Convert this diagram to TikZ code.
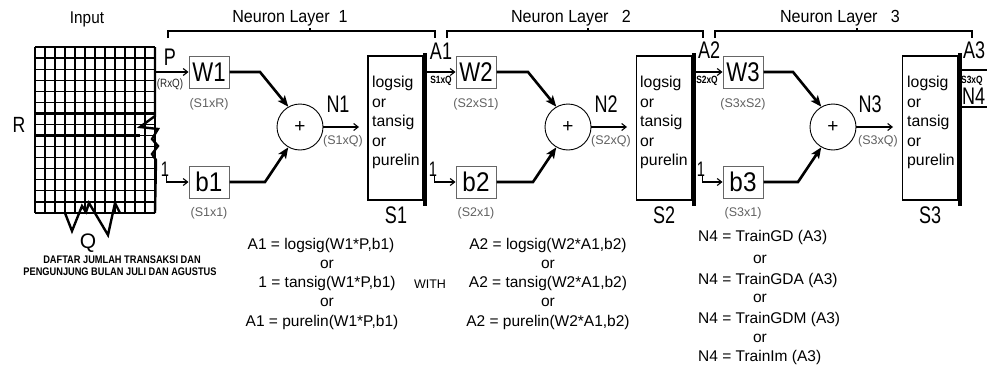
\documentclass[tikz,border=0pt]{standalone}
\usepackage{fontspec}
\setmainfont{Liberation Sans}
\usetikzlibrary{arrows.meta,calc}
\newcommand\myfs[1]{\fontsize{#1}{#1}\selectfont}
\begin{document}
\begin{tikzpicture}[x=1pt,y=-1pt,
  wbox/.style={draw=black!60, line width=1pt, minimum width=40pt, minimum height=32pt, inner sep=0pt, font=\myfs{27}},
  sbox/.style={draw, line width=1.1pt, minimum width=55pt, minimum height=144pt, inner sep=0pt},
  sumc/.style={circle, draw, line width=0.9pt, minimum size=46pt, inner sep=0pt, font=\myfs{19}},
  dimlab/.style={text=black!62, font=\myfs{12.5}, inner sep=0pt},
  tinylab/.style={font=\bfseries\myfs{10.5}, inner sep=0pt, xscale=0.8},
  biglab/.style={font=\myfs{24}, inner sep=0pt, xscale=0.75},
  onelab/.style={font=\myfs{21}, inner sep=0pt, xscale=0.7},
  eqn/.style={font=\myfs{15.5}, inner sep=0pt},
  sfunc/.style={anchor=north west, align=left, inner sep=0pt, font=\fontsize{15.8}{19.5}\selectfont},
  thickarr/.style={line width=2.6pt, line join=miter, -{Stealth[length=11pt,width=9pt,inset=2.5pt]}},
  thinarr/.style={line width=1.1pt, -{Straight Barb[length=4.5pt,width=7pt]}},
  brack/.style={line width=1.5pt},
  gthin/.style={line width=1.2pt},
  gthick/.style={line width=2.4pt}
]
\useasboundingbox (0,0) rectangle (987,372);
\fill[white] (0,0) rectangle (987,372);
\clip (0,0) rectangle (987,372);

% ---------- input grid ----------
\node[font=\myfs{17}, inner sep=0pt, xscale=0.9] (input) at (87,19) {Input};
\foreach \i in {0,...,12} \draw[gthin] (35+10*\i,47) -- (35+10*\i,213);
\foreach \j in {0,...,15} \draw[gthin] (35,47+11.067*\j) -- (155,47+11.067*\j);
\draw[gthick] (45,47) -- (45,213);
\draw[gthick] (55,47) -- (55,213);
\draw[gthick] (35,58.1) -- (155,58.1);
\draw[gthick] (35,113.4) -- (155,113.4);
\draw[gthick] (35,135.5) -- (140,135.5);
\draw[gthick] (35,213) -- (155,213);
\draw[gthick, line join=miter] (155,47) -- (155,116) -- (140,127) -- (158,129) -- (152,139) -- (158,146) -- (152,154) -- (156,160) -- (155,213);
\draw[gthick, line join=miter] (65,213) -- (72,231) -- (82,206) -- (86,212) -- (89,203) -- (108,235) -- (115,203) -- (120,213);
\node[font=\myfs{22}, inner sep=0pt, xscale=0.8] (R) at (19,125) {R};
\node[font=\myfs{21}, inner sep=0pt] (Q) at (88,243) {Q};
\node[font=\bfseries\myfs{11}, inner sep=0pt, xscale=0.84] (daftar1) at (122,260) {DAFTAR JUMLAH TRANSAKSI DAN};
\node[font=\bfseries\myfs{11}, inner sep=0pt, xscale=0.84] (daftar2) at (120,272) {PENGUNJUNG BULAN JULI DAN AGUSTUS};

% ---------- brackets ----------
\draw[brack] (168,38) -- (168,31) -- (435,31) -- (435,38);
\draw[brack] (310,31) -- (310,28);
\draw[brack] (447,38) -- (447,31) -- (703,31) -- (703,38);
\draw[brack] (588,31) -- (588,28);
\draw[brack] (715,38) -- (715,31) -- (972,31) -- (972,38);
\draw[brack] (857,31) -- (857,28);
\node[font=\myfs{17.5}, inner sep=0pt, xscale=0.92] (nl1) at (290,18) {Neuron Layer\ \ 1};
\node[font=\myfs{17.5}, inner sep=0pt, xscale=0.92] (nl2) at (571,18) {Neuron Layer\ \ \ 2};
\node[font=\myfs{17.5}, inner sep=0pt, xscale=0.92] (nl3) at (840,18) {Neuron Layer\ \ \ 3};

% ---------- layer 1 ----------
\node[wbox] (W1) at (209,72) {\scalebox{0.82}[1]{W1}};
\node[wbox] (b1) at (209,182) {\scalebox{0.9}[1]{b1}};
\node[dimlab] (W1d) at (209,104) {(S1xR)};
\node[dimlab] (b1d) at (209,213) {(S1x1)};
\node[sumc] (C1) at (300,127) {+};
\node[sbox] (S1) at (395.5,128) {};
\draw[line width=4pt] ([xshift=1.5pt,yshift=2pt]S1.north east) -- ([xshift=1.5pt,yshift=-5pt]S1.south east);
\node[sfunc] (S1t) at (372,76) {logsig\\or\\tansig\\or\\purelin};
\node[biglab] (S1l) at (396,215) {S1};

\coordinate (gP) at (155,72);
\node[biglab] (P) at (170,57) {P};
\node[font=\myfs{12}, inner sep=0pt, xscale=0.82, text=black!85] (RxQ) at (170,84) {(RxQ)};
\draw[thinarr] (gP) -- (W1.west);
\node[onelab] (one1) at (165,169) {1};
\draw[thinarr] ([xshift=1.5pt,yshift=1pt]one1.south) |- (b1.west);

\coordinate (k1a) at (260,72);
\coordinate (k1b) at (265,182);
\draw[thickarr] (W1.east) -- (k1a) -- (C1.120);
\draw[thickarr] (b1.east) -- (k1b) -- (C1.240);
\coordinate (n1e) at (359,127);
\draw[thinarr] (C1.east) -- (n1e);
\node[biglab] (N1) at (338,104) {N1};
\node[dimlab] (N1d) at (343,141) {(S1xQ)};

% ---------- layer 2 ----------
\node[wbox] (W2) at (476,72) {\scalebox{0.82}[1]{W2}};
\node[wbox] (b2) at (476,182) {\scalebox{0.9}[1]{b2}};
\node[dimlab] (W2d) at (476,104) {(S2xS1)};
\node[dimlab] (b2d) at (476,213) {(S2x1)};
\node[sumc] (C2) at (568,127) {+};
\node[sbox] (S2) at (664,128) {};
\draw[line width=4pt] ([xshift=1.5pt,yshift=2pt]S2.north east) -- ([xshift=1.5pt,yshift=-5pt]S2.south east);
\node[sfunc] (S2t) at (640,76) {logsig\\or\\tansig\\or\\purelin};
\node[biglab] (S2l) at (664,215) {S2};

\coordinate (a1s) at (427,72);
\draw[thinarr] (a1s) -- (W2.west);
\node[biglab] (A1) at (441,51) {A1};
\node[tinylab] (A1d) at (441,81) {S1xQ};
\node[onelab] (one2) at (433,169) {1};
\draw[thinarr] ([xshift=1.5pt,yshift=1pt]one2.south) |- (b2.west);

\coordinate (k2a) at (528,72);
\coordinate (k2b) at (533,182);
\draw[thickarr] (W2.east) -- (k2a) -- (C2.120);
\draw[thickarr] (b2.east) -- (k2b) -- (C2.240);
\coordinate (n2e) at (627,127);
\draw[thinarr] (C2.east) -- (n2e);
\node[biglab] (N2) at (606,104) {N2};
\node[dimlab] (N2d) at (611,141) {(S2xQ)};

% ---------- layer 3 ----------
\node[wbox] (W3) at (743,72) {\scalebox{0.82}[1]{W3}};
\node[wbox] (b3) at (743,182) {\scalebox{0.9}[1]{b3}};
\node[dimlab] (W3d) at (743,104) {(S3xS2)};
\node[dimlab] (b3d) at (743,213) {(S3x1)};
\node[sumc] (C3) at (833,127) {+};
\node[sbox] (S3) at (930,128) {};
\draw[line width=4pt] ([xshift=1.5pt,yshift=2pt]S3.north east) -- ([xshift=1.5pt,yshift=-5pt]S3.south east);
\node[sfunc] (S3t) at (907,76) {logsig\\or\\tansig\\or\\purelin};
\node[biglab] (S3l) at (930,215) {S3};

\coordinate (a2s) at (695,72);
\draw[thinarr] (a2s) -- (W3.west);
\node[biglab] (A2) at (709,50) {A2};
\node[tinylab] (A2d) at (707,81) {S2xQ};
\node[onelab] (one3) at (701,169) {1};
\draw[thinarr] ([xshift=1.5pt,yshift=1pt]one3.south) |- (b3.west);

\coordinate (k3a) at (793,72);
\coordinate (k3b) at (798,182);
\draw[thickarr] (W3.east) -- (k3a) -- (C3.120);
\draw[thickarr] (b3.east) -- (k3b) -- (C3.240);
\coordinate (n3e) at (893,127);
\draw[thinarr] (C3.east) -- (n3e);
\node[biglab] (N3) at (870,104) {N3};
\node[dimlab] (N3d) at (878,141) {(S3xQ)};

% ---------- output (cut at right edge) ----------
\coordinate (a3s) at (960,70);
\coordinate (a3e) at (990,70);
\coordinate (n4s) at (960,107);
\coordinate (n4e) at (990,107);
\draw[line width=1.1pt] (a3s) -- (a3e);
\draw[line width=1.1pt] (n4s) -- (n4e);
\node[biglab, anchor=west] (A3) at (963,50) {A3};
\node[tinylab, anchor=west] (A3d) at (961,81) {S3xQ};
\node[biglab, anchor=west] (N4) at (962,96) {N4};

% ---------- equations ----------
\node[eqn] (e11) at (321,245) {A1 = logsig(W1*P,b1)};
\node[eqn] (e12) at (327,264) {or};
\node[eqn] (e13) at (327,283) {1 = tansig(W1*P,b1)};
\node[eqn] (e14) at (327,302) {or};
\node[eqn] (e15) at (322,322) {A1 = purelin(W1*P,b1)};
\node[font=\myfs{12.5}, inner sep=0pt] (with) at (430,284) {WITH};
\node[eqn] (e21) at (548,245) {A2 = logsig(W2*A1,b2)};
\node[eqn] (e22) at (548,264) {or};
\node[eqn] (e23) at (548,283) {A2 = tansig(W2*A1,b2)};
\node[eqn] (e24) at (548,302) {or};
\node[eqn] (e25) at (548,322) {A2 = purelin(W2*A1,b2)};
\node[eqn, anchor=west] (e31) at (698,237) {N4 = TrainGD (A3)};
\node[eqn] (e32) at (760,259) {or};
\node[eqn, anchor=west] (e33) at (698,280) {N4 = TrainGDA (A3)};
\node[eqn] (e34) at (760,298) {or};
\node[eqn, anchor=west] (e35) at (698,319) {N4 = TrainGDM (A3)};
\node[eqn] (e36) at (760,338) {or};
\node[eqn, anchor=west] (e37) at (698,357) {N4 = TrainIm (A3)};
\end{tikzpicture}
\end{document}
